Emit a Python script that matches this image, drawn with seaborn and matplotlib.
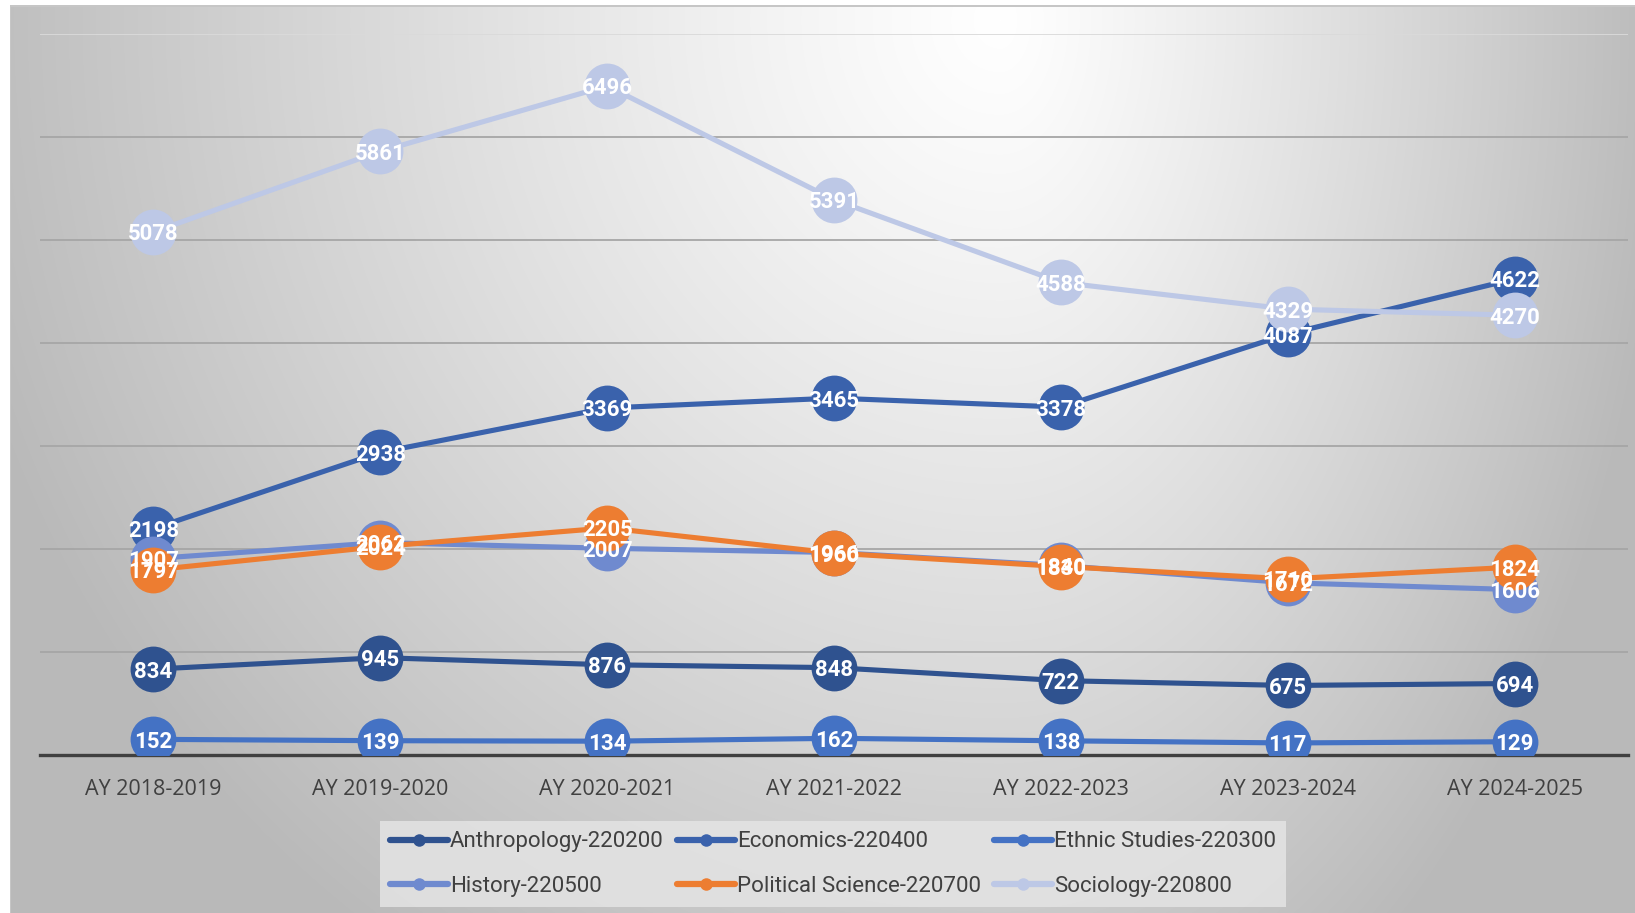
import numpy as np
import pandas as pd
import matplotlib
matplotlib.use("Agg")
import matplotlib.pyplot as plt
import seaborn as sns

years = ["AY 2018-2019", "AY 2019-2020", "AY 2020-2021", "AY 2021-2022",
         "AY 2022-2023", "AY 2023-2024", "AY 2024-2025"]
anthropology = [834, 945, 876, 848, 722, 675, 694]
economics = [2198, 2938, 3369, 3465, 3378, 4087, 4622]
ethnic_studies = [152, 139, 134, 162, 138, 117, 129]
history = [1907, 2062, 2007, 1966, 1840, 1672, 1606]
political_science = [1797, 2024, 2205, 1960, 1830, 1710, 1824]
sociology = [5078, 5861, 6496, 5391, 4588, 4329, 4270]

series_names = ["Anthropology-220200", "Economics-220400", "Ethnic Studies-220300",
                "History-220500", "Political Science-220700", "Sociology-220800"]
series_values = [anthropology, economics, ethnic_studies, history, political_science, sociology]
colors = ["#2F528F", "#3A62AC", "#4472C4", "#6F8ACF", "#ED7D31", "#BDC8E6"]

rows = []
for name, vals in zip(series_names, series_values):
    for y, v in zip(years, vals):
        rows.append({"year": y, "value": v, "series": name})
df = pd.DataFrame(rows)

sns.set_theme(style="white")
plt.rcParams["font.family"] = ["Open Sans", "DejaVu Sans"]

W, H = 1635, 913
fig = plt.figure(figsize=(W / 100, H / 100), dpi=100)

# background gradient
bg = fig.add_axes([0, 0, 1, 1], zorder=-10)
xx, yy = np.meshgrid(np.arange(W), np.arange(H))
cx, cy = 1000.0, 20.0
hx = np.where(xx < cx, 1000.0, 620.0)
r = np.sqrt(((xx - cx) / hx) ** 2 + ((yy - cy) / 1050.0) ** 2)
g = 255 - 64 * np.clip(r, 0, 1.3) ** 1.15
g = np.clip(g, 185, 255) / 255.0
img = np.dstack([g, g, g])
img[:, :10] = 1.0
img[:5, :] = 1.0
img[5:7, 10:] = 0.78
img[5:, 10:11] = 0.78
bg.imshow(img, extent=[0, W, H, 0], aspect="auto", interpolation="bilinear")
bg.set_xlim(0, W)
bg.set_ylim(H, 0)
bg.axis("off")

ax = fig.add_axes([40 / W, 1 - 755 / H, (1628 - 40) / W, (755 - 34) / H])
ax.set_facecolor("none")

sns.lineplot(data=df, x="year", y="value", hue="series", hue_order=series_names,
             palette=colors, marker="o", markersize=33, markeredgewidth=0,
             linewidth=3.7, sort=False, ax=ax, legend=True)

for name, vals in zip(series_names, series_values):
    for i, v in enumerate(vals):
        ax.text(i, v, str(v), ha="center", va="center_baseline", color="white",
                fontsize=16, fontweight="bold", family=["Roboto", "DejaVu Sans"],
                zorder=20)

ax.set_xlim(-0.5, 6.5)
ax.set_ylim(0, 7000)
ax.set_yticks(np.arange(0, 7001, 1000))
ax.set_yticklabels([])
ax.yaxis.grid(True, color="#a6a6a6", linewidth=1.3)
gls = ax.get_ygridlines()
gls[-1].set_color("#dadada")
ax.set_xlabel("")
ax.set_ylabel("")
for s in ["top", "left", "right"]:
    ax.spines[s].set_visible(False)
ax.spines["bottom"].set_color("#404040")
ax.spines["bottom"].set_linewidth(2.4)
ax.spines["bottom"].set_zorder(1)
ax.tick_params(axis="x", length=0, pad=17, labelsize=15.5, labelcolor="#404040")
ax.tick_params(axis="y", length=0)

handles, labels = ax.get_legend_handles_labels()
if ax.get_legend() is not None:
    ax.get_legend().remove()
for h in handles:
    h.set_markersize(9)
    h.set_linewidth(4.5)
order = [0, 3, 1, 4, 2, 5]
leg = fig.legend([handles[i] for i in order], [labels[i] for i in order],
                 loc="center", bbox_to_anchor=(833 / W, 1 - 864 / H), ncol=3,
                 frameon=True, fancybox=False,
                 prop={"family": ["Roboto", "DejaVu Sans"], "size": 16},
                 handlelength=2.6, handletextpad=0.1, columnspacing=0.6,
                 labelspacing=1.05, borderpad=0.45, labelcolor="#404040")
leg.get_frame().set_facecolor("#e4e4e4")
leg.get_frame().set_edgecolor("none")
leg.get_frame().set_alpha(0.85)

fig.savefig("out.png", dpi=100)
